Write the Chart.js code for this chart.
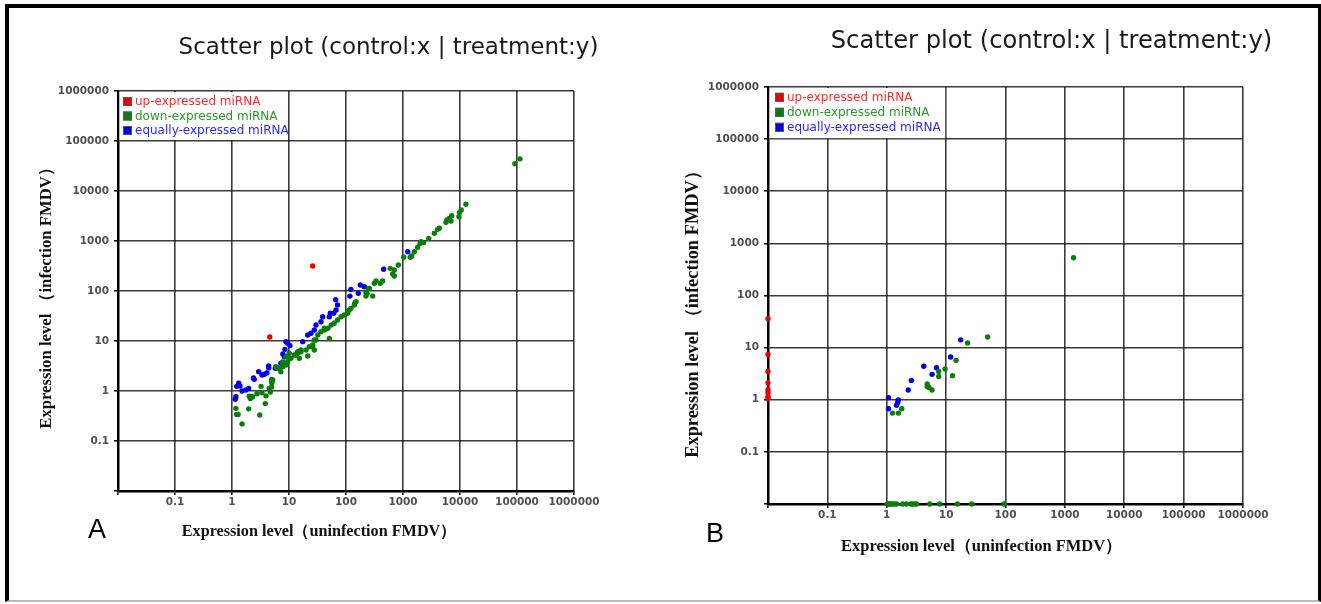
<!DOCTYPE html>
<html>
<head>
<meta charset="utf-8">
<script src="https://cdn.jsdelivr.net/npm/chart.js@4.4.1/dist/chart.umd.min.js"></script>
<style>
  html, body { margin: 0; padding: 0; background: #fff; }
  body { width: 1321px; height: 604px; position: relative; overflow: hidden; }
  .frame { position: absolute; left: 5px; top: 4px; width: 1316px; height: 598px; box-sizing: border-box;
           border: 4px solid #000; border-right-width: 3px; border-bottom: 2px solid #bbb; }
  #chartA { position: absolute; left: 0; top: 0; }
  #chartB { position: absolute; left: 660px; top: 0; }
</style>
</head>
<body>
<div class="frame"></div>
<canvas id="chartA" width="660" height="604"></canvas>
<canvas id="chartB" width="661" height="604"></canvas>
<script>
// axis ticks (powers of ten, lowest one left unlabeled)
var tickValues = [0.01, 0.1, 1, 10, 100, 1000, 10000, 100000, 1000000];
var tickLabels = ['', '0.1', '1', '10', '100', '1000', '10000', '100000', '1000000'];

var seriesNames = ['up-expressed miRNA', 'down-expressed miRNA', 'equally-expressed miRNA'];
var seriesColors = ['#ee0000', '#0a7d0a', '#0000ee'];
var legendTextColors = ['#ff2a2a', '#2a9a2a', '#2a2aff'];

// Panel A
var aUpX = [4.6, 26];
var aUpY = [12, 316];

var aDownX = [1.17, 1.2, 1.28, 1.5, 1.96, 2.0, 2.1, 2.2, 2.3, 2.75, 3.07, 3.24, 3.36, 3.84, 3.95, 4.5, 4.7, 4.95, 4.95, 4.95, 5.0, 5.2,
  5.9, 6.1, 6.76, 7.2, 7.75, 7.75, 7.8, 8.85, 8.85, 9.5, 10.1, 10.8, 12.4, 13.3, 14.2, 14.2, 15.2, 16.2, 16.2, 19.9, 21.3, 22.7, 26, 26,
  27.8, 27.8, 29.8, 32, 36.4, 41.7, 41.7, 48, 51, 55, 62, 71, 82, 93, 107, 107, 114, 122, 140, 143, 150, 224, 246, 224, 234, 294, 257,
  314, 336, 400, 440, 598, 660, 703, 703, 828, 1030, 1340, 1420, 1580, 1810, 2000, 2070, 2300, 2830, 3550, 4060, 4330, 5680, 5900, 6470,
  6940, 7150, 9600, 9760, 10500, 12700, 92000, 113000];
var aDownY = [0.45, 0.34, 0.34, 0.22, 0.44, 0.79, 0.71, 0.74, 0.77, 0.88, 0.33, 1.24, 0.92, 0.56, 0.8, 1.13, 0.95, 1.2, 1.56, 1.7, 1.47, 1.66,
  3.06, 2.9, 2.84, 2.43, 3.06, 3.6, 3.8, 3.3, 4.85, 3.85, 5.7, 4.5, 5.25, 5.25, 6.1, 5.7, 4.5, 6.6, 6.1, 6.6, 5.0, 7.7, 8.3, 7.7,
  10.5, 6.6, 10.5, 13.2, 15.3, 16.6, 18, 18, 11.3, 20.9, 22.6, 26.3, 30.6, 33, 38.5, 35.8, 41.7, 45, 52.5, 57.5, 61, 92.5, 113, 79, 90, 79, 113,
  143, 158, 143, 158, 284, 219, 263, 200, 331, 472, 472, 500, 611, 748, 900, 968, 930, 1130, 1430, 1710, 1800, 2370, 2630, 2840,
  2510, 3200, 3060, 3680, 4170, 5420, 35000, 44000];

var aEqualX = [1.14, 1.17, 1.21, 1.31, 1.38, 1.5, 1.76, 1.96, 2.38, 2.46, 2.94, 3.36, 3.7, 4.1, 4.4, 4.4, 5.75, 6.3, 7.2, 7.8, 8.3, 8.5,
  8.85, 9.5, 10.4, 17.4, 21.3, 24.3, 27.8, 29.8, 36.4, 39, 51, 53, 61, 66, 67, 71, 117, 122, 164, 178, 210, 458, 1210];
var aEqualY = [0.68, 0.77, 1.24, 1.43, 1.26, 1.0, 1.05, 1.13, 1.82, 1.71, 2.43, 2.09, 2.16, 2.3, 3.16, 2.9, 2.85, 2.9, 3.6, 5.5, 4.85, 6.8,
  9.7, 9.0, 8.1, 9.7, 13.2, 14.3, 16.6, 20.9, 24.3, 30.6, 30.6, 35.8, 35.8, 67, 41.7, 52.5, 79, 108, 90, 132, 122, 272, 611];

// Panel B (zero values sit on the axis minimum 0.01)
var bUpX = [0.01, 0.01, 0.01, 0.01, 0.01, 0.01, 0.01, 0.01];
var bUpY = [36, 7.4, 3.5, 2.1, 1.56, 1.38, 1.16, 1.06];

var bDownX = [23, 50, 14.7, 9.6, 7.5, 7.5, 12.8, 4.8, 4.8, 5.15, 5.8, 1.79, 1.25, 1.57, 1400,
  1.03, 1.08, 1.12, 1.18, 1.26, 1.36, 1.47, 1.86, 2.15, 2.54, 2.7, 2.96, 3.16, 5.3, 7.8, 15.5, 27, 95];
var bDownY = [12.3, 16, 5.7, 3.9, 3.5, 2.8, 2.9, 2.0, 1.8, 1.72, 1.54, 0.67, 0.555, 0.555, 530,
  0.01, 0.01, 0.01, 0.01, 0.01, 0.01, 0.01, 0.01, 0.01, 0.01, 0.01, 0.01, 0.01, 0.01, 0.01, 0.01, 0.01, 0.01];

var bEqualX = [17.6, 11.9, 4.2, 6.9, 5.8, 2.6, 2.3, 1.07, 1.57, 1.53, 1.46, 1.07];
var bEqualY = [14.1, 6.6, 4.4, 4.1, 3.07, 2.35, 1.54, 1.1, 0.99, 0.89, 0.78, 0.67];

var chartTitle = 'Scatter plot (control:x | treatment:y)';
var xCaption = 'Expression level（uninfection FMDV）';
var yCaption = 'Expression level （infection FMDV）';

function points(xs, ys) {
    return xs.map(function(x, i) { return { x: x, y: ys[i] }; });
}

function makeDatasets(series) {
    return series.map(function(s, i) {
        return {
            label: seriesNames[i],
            data: points(s[0], s[1]),
            backgroundColor: seriesColors[i],
            borderWidth: 0,
            pointRadius: 2.7,
            pointHoverRadius: 2.7,
            clip: false
        };
    });
}

// titles, captions, panel letter and the boxed legend
var panelText = {
    id: 'panelText',
    afterDraw: function(chart, args, o) {
        var ctx = chart.ctx;
        var area = chart.chartArea;
        var xs = chart.scales.x, ys = chart.scales.y;
        ctx.save();

        // legend box covers the grid
        ctx.fillStyle = '#fff';
        var bx = area.left + 1.5, by = area.top + 1;
        ctx.fillRect(bx, by, xs.getPixelForValue(10) - 1 - bx, ys.getPixelForValue(100000) - 1 - by);
        chart.data.datasets.forEach(function(ds, i) {
            var x = area.left + o.legendLeft;
            var y = area.top + o.legendTop + i * o.legendGap;
            ctx.fillStyle = ds.backgroundColor;
            ctx.fillRect(x, y - 4.5, 9, 9);
            ctx.strokeStyle = '#555';
            ctx.lineWidth = 1;
            ctx.strokeRect(x + 0.5, y - 4, 8, 8);
            ctx.fillStyle = legendTextColors[i];
            ctx.font = '12px "DejaVu Sans"';
            ctx.textAlign = 'left';
            ctx.textBaseline = 'middle';
            ctx.fillText(ds.label, x + 12, y + 0.5);
        });

        ctx.textAlign = 'center';
        ctx.textBaseline = 'middle';
        ctx.fillStyle = '#1a1a1a';
        ctx.font = o.titleSize + 'px "DejaVu Sans"';
        ctx.fillText(chartTitle, o.titleX, o.titleY);

        ctx.fillStyle = '#111';
        ctx.font = 'bold ' + o.xCapSize + 'px "Liberation Serif"';
        ctx.fillText(xCaption, o.xCapX, o.xCapY);

        ctx.save();
        ctx.translate(o.yCapX, o.yCapY);
        ctx.rotate(-Math.PI / 2);
        ctx.font = 'bold ' + o.yCapSize + 'px "Liberation Serif"';
        ctx.fillText(yCaption, 0, 0);
        ctx.restore();

        ctx.fillStyle = '#000';
        ctx.font = '27px "Liberation Sans"';
        ctx.fillText(o.letter, o.letterX, o.letterY);
        ctx.restore();
    }
};

function logAxis(fitSize, isX) {
    var axis = {
        type: 'logarithmic',
        min: 0.01,
        max: 1000000,
        afterBuildTicks: function(scale) {
            scale.ticks = tickValues.map(function(v) { return { value: v }; });
        },
        ticks: {
            autoSkip: false,
            maxRotation: 0,
            padding: isX ? 1 : 5,
            color: '#505050',
            font: { family: 'DejaVu Sans', size: 10.5, weight: 'bold' },
            callback: function(value, index) { return tickLabels[index]; }
        },
        grid: {
            color: 'rgba(25,25,25,0.85)',
            lineWidth: 1.6,
            tickLength: 4,
            tickColor: '#111'
        },
        border: { color: '#000', width: 2.5 }
    };
    if (isX) {
        axis.afterFit = function(scale) { scale.height = fitSize; };
    } else {
        axis.afterFit = function(scale) { scale.width = fitSize; };
    }
    return axis;
}

function makeChart(id, series, padding, text) {
    return new Chart(document.getElementById(id).getContext('2d'), {
        type: 'scatter',
        data: { datasets: makeDatasets(series) },
        options: {
            responsive: false,
            animation: false,
            layout: { padding: padding },
            scales: { x: logAxis(30, true), y: logAxis(60, false) },
            plugins: {
                legend: { display: false },
                title: { display: false },
                tooltip: { enabled: false },
                panelText: text
            }
        },
        plugins: [panelText]
    });
}

makeChart('chartA',
    [[aUpX, aUpY], [aDownX, aDownY], [aEqualX, aEqualY]],
    { left: 58, right: 86, top: 91, bottom: 83 },
    { titleX: 388.5, titleY: 48, titleSize: 23,
      xCapX: 319, xCapY: 531.5, xCapSize: 16.2,
      yCapX: 46.3, yCapY: 294, yCapSize: 16.7,
      letter: 'A', letterX: 97, letterY: 531,
      legendLeft: 5, legendTop: 10.5, legendGap: 14.5 });

makeChart('chartB',
    [[bUpX, bUpY], [bDownX, bDownY], [bEqualX, bEqualY]],
    { left: 48, right: 78, top: 87, bottom: 70 },
    { titleX: 391.5, titleY: 41.6, titleSize: 24.2,
      xCapX: 321.6, xCapY: 547, xCapSize: 16.5,
      yCapX: 32.9, yCapY: 310, yCapSize: 18.4,
      letter: 'B', letterX: 55, letterY: 535,
      legendLeft: 7, legendTop: 10.3, legendGap: 15 });
</script>
</body>
</html>
